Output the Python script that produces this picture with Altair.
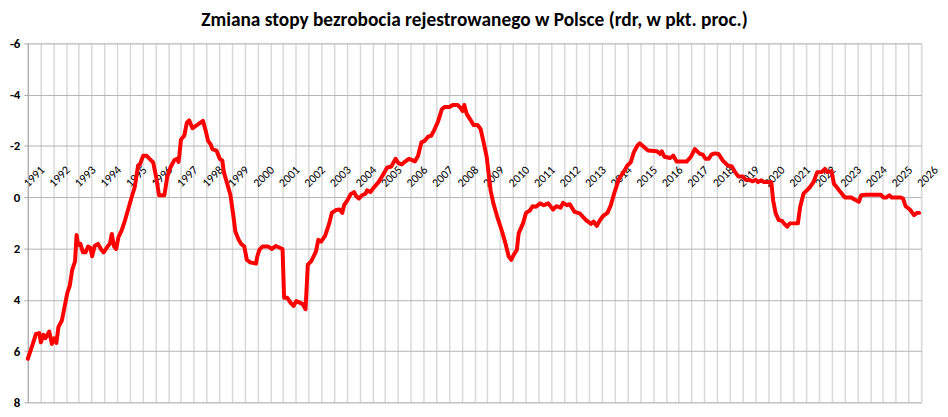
import altair as alt
import pandas as pd

title_text = "Zmiana stopy bezrobocia rejestrowanego w Polsce (rdr, w pkt. proc.)"

# decimal year of each reading
t = [1991.00, 1991.17, 1991.32, 1991.45, 1991.51, 1991.61, 1991.69, 1991.84, 1991.94,
     1992.03, 1992.12, 1992.20, 1992.33, 1992.42, 1992.55, 1992.64, 1992.74, 1992.85, 1992.91, 1992.97,
     1993.06, 1993.16, 1993.26, 1993.36, 1993.45, 1993.52, 1993.62, 1993.75, 1993.88, 1993.97,
     1994.14, 1994.22, 1994.29, 1994.37, 1994.46, 1994.55, 1994.68, 1994.81, 1994.94,
     1995.07, 1995.19, 1995.32, 1995.39, 1995.52, 1995.65, 1995.77, 1995.91,
     1996.03, 1996.14, 1996.35, 1996.46, 1996.59, 1996.74, 1996.85, 1996.90, 1996.94,
     1997.00, 1997.13, 1997.23, 1997.32, 1997.45, 1997.58, 1997.71, 1997.86, 1997.97,
     1998.06, 1998.16, 1998.23, 1998.39, 1998.52, 1998.62, 1998.68, 1998.81, 1998.94,
     1999.04, 1999.13, 1999.26, 1999.36, 1999.48, 1999.58, 1999.71, 1999.94, 1999.99,
     2000.07, 2000.20, 2000.42, 2000.55, 2000.72, 2000.98,
     2001.04, 2001.16, 2001.29, 2001.41, 2001.52, 2001.65, 2001.77, 2001.88, 2001.97,
     2002.10, 2002.23, 2002.29, 2002.38, 2002.49, 2002.65, 2002.81, 2002.91,
     2003.07, 2003.22, 2003.32, 2003.39, 2003.52, 2003.65, 2003.78, 2003.87, 2003.97,
     2004.10, 2004.23, 2004.29, 2004.42, 2004.55, 2004.74, 2004.94,
     2005.07, 2005.24, 2005.41, 2005.52, 2005.65, 2005.78, 2005.93,
     2006.03, 2006.17, 2006.29, 2006.42, 2006.55, 2006.68, 2006.81, 2006.94,
     2007.07, 2007.22, 2007.33, 2007.52, 2007.65, 2007.84, 2007.97,
     2008.03, 2008.10, 2008.20, 2008.33, 2008.46, 2008.62, 2008.74, 2008.87, 2008.98,
     2009.07, 2009.13, 2009.24, 2009.39, 2009.58, 2009.71, 2009.84, 2009.94,
     2010.04, 2010.16, 2010.23, 2010.40, 2010.52, 2010.66, 2010.78, 2010.91,
     2011.07, 2011.22, 2011.39, 2011.58, 2011.71, 2011.87, 2011.97,
     2012.13, 2012.23, 2012.42, 2012.62, 2012.87,
     2013.07, 2013.17, 2013.29, 2013.42, 2013.54, 2013.71, 2013.84, 2013.97,
     2014.16, 2014.30, 2014.49, 2014.62, 2014.74, 2014.88, 2014.97,
     2015.13, 2015.30, 2015.65, 2015.78, 2015.84, 2015.94,
     2016.17, 2016.29, 2016.42, 2016.81, 2016.98,
     2017.13, 2017.33, 2017.45, 2017.55, 2017.68, 2017.78, 2017.91,
     2018.06, 2018.23, 2018.42, 2018.58, 2018.71, 2018.84,
     2019.00, 2019.13, 2019.26, 2019.39, 2019.52, 2019.61, 2019.74, 2019.84,
     2020.13, 2020.20, 2020.30, 2020.42, 2020.55, 2020.64, 2020.75, 2020.85,
     2021.17, 2021.26, 2021.39, 2021.52, 2021.65, 2021.78, 2021.93,
     2022.10, 2022.23, 2022.32, 2022.49, 2022.58, 2022.71, 2022.84,
     2023.01, 2023.26, 2023.39, 2023.56, 2023.65, 2023.84,
     2024.42, 2024.52, 2024.64, 2024.75, 2024.85,
     2025.20, 2025.29, 2025.39, 2025.58, 2025.72, 2025.84, 2025.92]

# change of the registered unemployment rate, y/y, pp
v = [6.30, 5.80, 5.33, 5.30, 5.66, 5.37, 5.50, 5.24, 5.72,
     5.50, 5.68, 5.06, 4.82, 4.37, 3.72, 3.47, 2.82, 2.50, 1.47, 1.86,
     1.82, 2.15, 2.15, 1.92, 1.98, 2.30, 1.90, 1.82, 2.05, 2.15,
     1.90, 1.80, 1.43, 1.90, 2.02, 1.56, 1.28, 0.89, 0.44,
     -0.01, -0.40, -1.24, -1.28, -1.62, -1.62, -1.50, -1.36,
     -0.78, -0.08, -0.08, -0.78, -1.17, -1.45, -1.50, -1.38, -1.67,
     -2.25, -2.40, -2.91, -3.00, -2.69, -2.78, -2.87, -2.98, -2.59,
     -2.20, -2.07, -1.88, -1.82, -1.50, -1.43, -0.98, -0.53, -0.08,
     0.63, 1.34, 1.66, 1.82, 1.92, 2.44, 2.54, 2.59, 2.31,
     2.05, 1.92, 1.92, 2.02, 1.90, 2.02,
     3.92, 3.92, 4.11, 4.24, 4.05, 4.11, 4.17, 4.37, 2.63,
     2.50, 2.24, 2.11, 1.66, 1.73, 1.50, 1.02, 0.61,
     0.50, 0.48, 0.61, 0.31, 0.12, -0.12, -0.20, -0.04, 0.05,
     -0.08, -0.14, -0.27, -0.20, -0.37, -0.59, -0.92,
     -1.15, -1.20, -1.50, -1.33, -1.28, -1.39, -1.50,
     -1.46, -1.40, -1.62, -2.14, -2.20, -2.36, -2.40, -2.66,
     -2.95, -3.43, -3.52, -3.52, -3.60, -3.60, -3.47,
     -3.36, -3.60, -3.24, -3.04, -2.82, -2.82, -2.66, -2.08, -1.56,
     -0.78, -0.27, 0.24, 0.76, 1.34, 1.79, 2.31, 2.44,
     2.24, 2.05, 1.41, 1.02, 0.61, 0.53, 0.35, 0.37,
     0.24, 0.31, 0.24, 0.48, 0.35, 0.41, 0.22,
     0.31, 0.27, 0.57, 0.63, 0.89,
     1.04, 0.95, 1.12, 0.89, 0.73, 0.61, 0.31, -0.14,
     -0.72, -0.92, -1.24, -1.36, -1.75, -2.01, -2.10,
     -1.97, -1.82, -1.79, -1.69, -1.79, -1.58,
     -1.53, -1.62, -1.39, -1.39, -1.58,
     -1.88, -1.69, -1.66, -1.50, -1.50, -1.66, -1.71,
     -1.69, -1.43, -1.24, -1.20, -0.98, -0.81,
     -0.81, -0.68, -0.68, -0.62, -0.68, -0.59, -0.66, -0.59,
     -0.59, 0.12, 0.63, 0.89, 0.92, 1.04, 1.15, 1.02,
     1.02, 0.37, -0.14, -0.27, -0.40, -0.59, -0.98,
     -0.98, -1.11, -0.98, -1.02, -0.53, -0.37, -0.20,
     0.01, 0.01, 0.09, 0.18, -0.08, -0.10,
     -0.10, 0.01, 0.01, -0.08, 0.01,
     0.01, 0.05, 0.35, 0.50, 0.70, 0.61, 0.61]

years = list(range(1991, 2027))
y_ticks = [-6, -4, -2, 0, 2, 4, 6, 8]

df = pd.DataFrame({"t": t, "v": v})
grid_vals = [y + h for y in years[:-1] for h in (0, 0.5)] + [years[-1]]

FONT = "Carlito, Lato, sans-serif"

chart = alt.Chart(df).mark_line(
    color="#ff0000", strokeWidth=4, strokeJoin="round", strokeCap="round"
).encode(
    x=alt.X(
        "t:Q",
        scale=alt.Scale(domain=[years[0], years[-1]], nice=False, zero=False),
        axis=alt.Axis(
            orient="top", offset=-155, values=grid_vals,
            labelExpr="datum.value % 1 == 0 ? toString(datum.value) : ''",
            labelAngle=315, labelAlign="left", labelBaseline="alphabetic",
            labelPadding=10, ticks=False, domain=False,
            grid=True, gridColor="#d9d9d9", gridWidth=1.5,
            labelFont=FONT, labelFontSize=12, labelColor="#000000",
            labelOverlap=False, labelBound=False, labelFlush=False, title=None,
        ),
    ),
    y=alt.Y(
        "v:Q",
        scale=alt.Scale(domain=[-6, 8], reverse=True, nice=False, zero=False),
        axis=alt.Axis(
            values=y_ticks, grid=True, gridColor="#b3b3b3", gridWidth=1,
            domain=True, domainColor="#a6a6a6", domainWidth=1,
            ticks=True, tickColor="#a6a6a6", tickSize=4, labelPadding=4,
            labelExpr="datum.value < 0 ? '-' + toString(-datum.value) : toString(datum.value)",
            labelFont=FONT, labelFontSize=13, labelFontWeight="bold",
            labelColor="#000000", title=None,
        ),
    ),
).properties(
    width=901, height=362,
    title=alt.TitleParams(
        title_text, font=FONT, fontSize=19.5, fontWeight="bold", color="#000000",
        anchor="middle", frame="group", offset=7,
    ),
    autosize=alt.AutoSizeParams(type="none"),
    padding={"left": 20, "top": 34, "right": 19, "bottom": 5},
).configure_view(strokeWidth=0).configure(background="white")

chart.save("out.html", embed_options={"renderer": "svg", "actions": False})
